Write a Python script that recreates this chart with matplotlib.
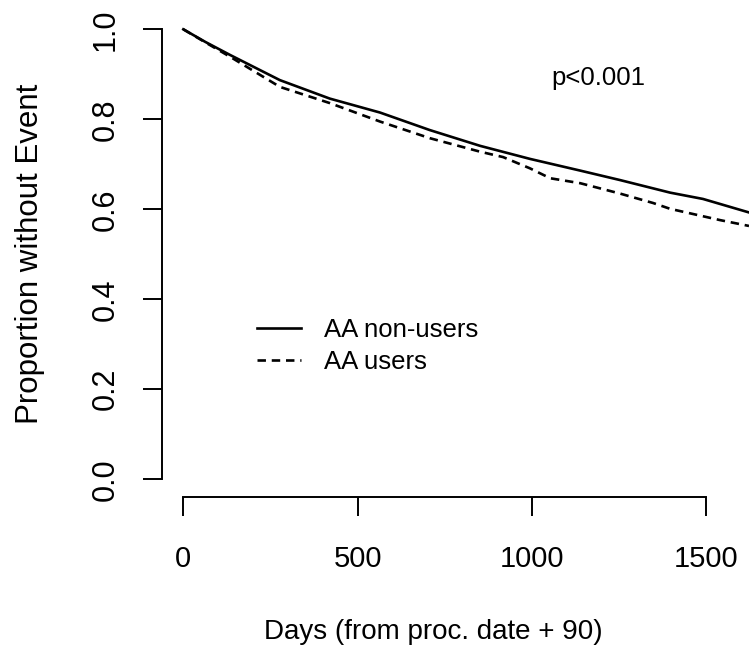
import numpy as np
import matplotlib
matplotlib.use("Agg")
from matplotlib import pyplot as plt

plt.rcParams['font.family'] = ['Liberation Sans', 'DejaVu Sans']

# survival curves (days, proportion without event)
daysNonUsers = [0, 63, 134, 277, 420, 564, 707, 851, 994, 1138, 1252, 1396, 1490, 1622]
survNonUsers = [1.0, 0.972, 0.943, 0.887, 0.846, 0.815, 0.776, 0.741, 0.712, 0.686, 0.665, 0.637, 0.623, 0.593]

daysUsers = [0, 63, 134, 277, 420, 564, 707, 851, 917, 994, 1052, 1138, 1252, 1347, 1396, 1539, 1622]
survUsers = [1.0, 0.971, 0.939, 0.872, 0.836, 0.795, 0.758, 0.728, 0.716, 0.691, 0.669, 0.658, 0.635, 0.614, 0.601, 0.576, 0.563]

xTicks = [0, 500, 1000, 1500]
yTicks = [0.0, 0.2, 0.4, 0.6, 0.8, 1.0]
pText = "p<0.001"

W, H = 749, 649
fig = plt.figure(figsize=(W/100., H/100.), dpi=100)
# plot region in pixels (R style, 4% axis extension)
left, right, top, bottom = 161.7, 749., 11.3, 497.3
ax = fig.add_axes([left/W, 1-bottom/H, (right-left)/W, (bottom-top)/H])
ax.set_xlim(-62, 1622)
ax.set_ylim(-0.04, 1.04)

ax.plot(daysNonUsers, survNonUsers, color='black', lw=1.9, label="AA non-users")
ax.plot(daysUsers, survUsers, color='black', lw=1.9, linestyle=(0, (3.2, 2.2)), label="AA users")

for s in ['top', 'right']:
    ax.spines[s].set_visible(False)
ax.spines['left'].set_bounds(0, 1)
ax.spines['bottom'].set_bounds(0, 1500)
for s in ['left', 'bottom']:
    ax.spines[s].set_linewidth(1.4)

ax.set_xticks(xTicks)
ax.set_xticklabels([str(t) for t in xTicks])
ax.set_yticks(yTicks)
ax.set_yticklabels(["%.1f" % t for t in yTicks], rotation=90, va='center')
ax.tick_params(axis='both', length=13.7, width=1.4)
ax.tick_params(axis='x', pad=21, labelsize=21)
ax.tick_params(axis='y', pad=16, labelsize=22)

ax.text(598./W, 1-78./H, pText, transform=fig.transFigure, fontsize=18.5, ha='center', va='center')

leg = ax.legend(loc='upper left', bbox_to_anchor=(257./W, 1-318./H), bbox_transform=fig.transFigure,
                frameon=False, fontsize=18.5, handlelength=1.72, handletextpad=0.9, labelspacing=0.3,
                borderaxespad=0, borderpad=0)

fig.text(433./W, 1-632./H, "Days (from proc. date + 90)", fontsize=20, ha='center', va='center')
fig.text(30./W, 1-254./H, "Proportion without Event", fontsize=22.5, ha='center', va='center', rotation=90)

plt.savefig("out.png", dpi=100)
